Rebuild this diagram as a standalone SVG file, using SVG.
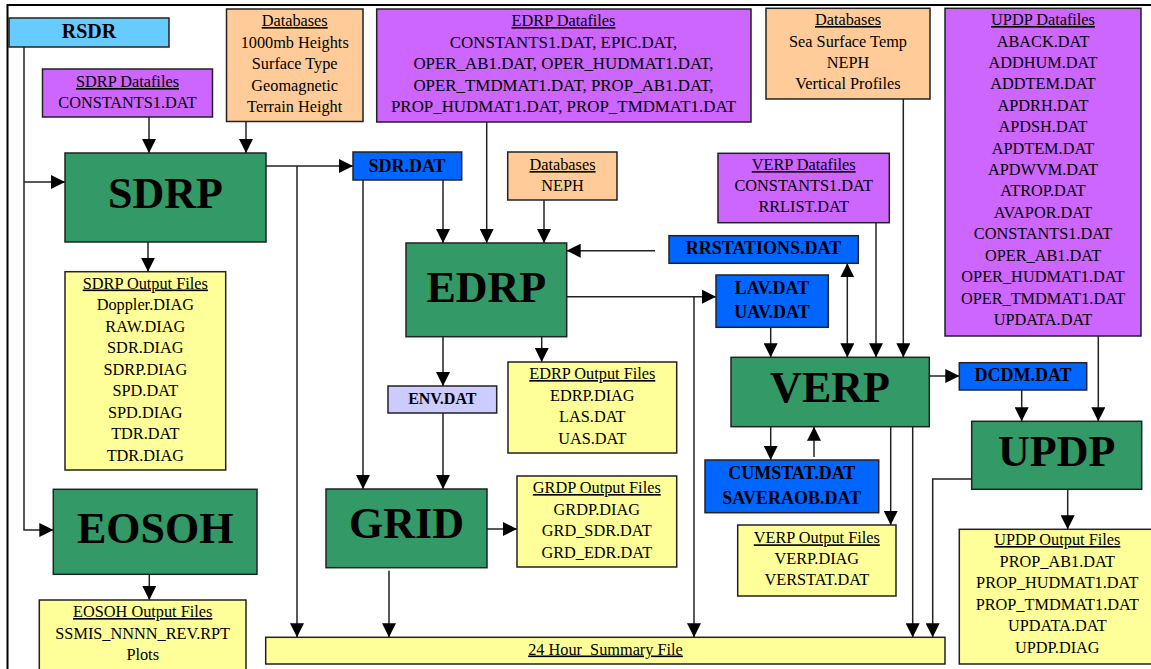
<svg xmlns="http://www.w3.org/2000/svg" width="1151" height="669" viewBox="0 0 1151 669">
<style>
.box{stroke:#222;stroke-width:1.5}
.g{fill:#339966}.p{fill:#CC66FF}.o{fill:#FFCC99}.y{fill:#FFFF99}.b{fill:#0066FF}.lb{fill:#66CCFF}.lv{fill:#CCCCFF}
text{font-family:"Liberation Serif","Times New Roman",serif;fill:#000;text-anchor:middle}
.t{font-size:16.3px}
.h{font-size:16.3px;text-decoration:underline}
.w{font-size:16.9px}
.bl{font-size:18px;font-weight:bold}
.big{font-size:44px;font-weight:bold}
.c{fill:none;stroke:#222;stroke-width:1.5}
</style>
<defs>
<marker id="ah" markerUnits="userSpaceOnUse" markerWidth="14" markerHeight="14" refX="14" refY="7" orient="auto">
<path d="M0,0 L14,7 L0,14 z" fill="#000"/>
</marker>
<marker id="as" markerUnits="userSpaceOnUse" markerWidth="14" markerHeight="14" refX="0" refY="7" orient="auto">
<path d="M14,0 L0,7 L14,14 z" fill="#000"/>
</marker>
</defs>
<rect width="1151" height="669" fill="#fff"/>
<path d="M7.5,669 V5 H1151" fill="none" stroke="#000" stroke-width="2"/>

<g id="connectors" class="c">
<path d="M24,47 V530 H53.3" marker-end="url(#ah)"/>
<path d="M24,182 H65" marker-end="url(#ah)"/>
<path d="M149,117 V153" marker-end="url(#ah)"/>
<path d="M246,121.5 V153" marker-end="url(#ah)"/>
<path d="M266,166 H353" marker-end="url(#ah)"/>
<path d="M297,166 V637.3" marker-end="url(#ah)"/>
<path d="M148,242 V271.7" marker-end="url(#ah)"/>
<path d="M443,180 V243" marker-end="url(#ah)"/>
<path d="M363,180 V489" marker-end="url(#ah)"/>
<path d="M486.7,122 V243" marker-end="url(#ah)"/>
<path d="M544,200 V243" marker-end="url(#ah)"/>
<path d="M655,250.7 H566.7" marker-end="url(#ah)"/>
<path d="M566.7,296.7 H716" marker-end="url(#ah)"/>
<path d="M694,296.7 V637.3" marker-end="url(#ah)"/>
<path d="M443,336.7 V386" marker-end="url(#ah)"/>
<path d="M541.7,336.7 V362" marker-end="url(#ah)"/>
<path d="M443,413 V489" marker-end="url(#ah)"/>
<path d="M487,529 H517" marker-end="url(#ah)"/>
<path d="M389,570.7 V637.3" marker-end="url(#ah)"/>
<path d="M149.3,574.3 V600" marker-end="url(#ah)"/>
<path d="M903.3,99 V357.3" marker-end="url(#ah)"/>
<path d="M876,222.7 V357.3" marker-end="url(#ah)"/>
<path d="M847.3,263.3 V357.3" marker-start="url(#as)" marker-end="url(#ah)"/>
<path d="M770.7,327.3 V357.3" marker-end="url(#ah)"/>
<path d="M929.3,376 H959.3" marker-end="url(#ah)"/>
<path d="M1021.7,390 V421.3" marker-end="url(#ah)"/>
<path d="M1098.3,336 V421.3" marker-end="url(#ah)"/>
<path d="M971.7,479 H932.7 V637.3" marker-end="url(#ah)"/>
<path d="M1067.7,489.3 V529.3" marker-end="url(#ah)"/>
<path d="M770.7,426.7 V460" marker-end="url(#ah)"/>
<path d="M814,457 V426.7" marker-end="url(#ah)"/>
<path d="M890.7,426.7 V525" marker-end="url(#ah)"/>
<path d="M912.7,426.7 V637.3" marker-end="url(#ah)"/>
</g>

<g id="rsdr"><rect class="box lb" x="9" y="18" width="160" height="29"/><text class="bl" style="font-size:20px" x="89" y="38">RSDR</text></g>

<g id="sdrp-datafiles"><rect class="box p" x="42.5" y="69" width="170" height="48"/>
<text class="h" x="127.5" y="87">SDRP Datafiles</text><text class="t" x="127.5" y="107.5">CONSTANTS1.DAT</text></g>

<g id="databases-sdrp"><rect class="box o" x="226.5" y="9" width="136.5" height="112.5"/>
<text class="h" x="294.7" y="26">Databases</text>
<text class="t" x="294.7" y="47.5">1000mb Heights</text>
<text class="t" x="294.7" y="69">Surface Type</text>
<text class="t" x="294.7" y="90.5">Geomagnetic</text>
<text class="t" x="294.7" y="112">Terrain Height</text></g>

<g id="edrp-datafiles"><rect class="box p" x="376.7" y="9" width="374.3" height="113"/>
<text class="h" x="563.5" y="26">EDRP Datafiles</text>
<text class="w" x="563.5" y="47.5">CONSTANTS1.DAT, EPIC.DAT,</text>
<text class="w" x="563.5" y="69">OPER_AB1.DAT, OPER_HUDMAT1.DAT,</text>
<text class="w" x="563.5" y="90.5">OPER_TMDMAT1.DAT, PROP_AB1.DAT,</text>
<text class="w" x="563.5" y="112">PROP_HUDMAT1.DAT, PROP_TMDMAT1.DAT</text></g>

<g id="databases-verp"><rect class="box o" x="766" y="8.3" width="164" height="90.7"/>
<text class="h" x="848" y="25">Databases</text>
<text class="t" x="848" y="46.5">Sea Surface Temp</text>
<text class="t" x="848" y="67.5">NEPH</text>
<text class="t" x="848" y="89">Vertical Profiles</text></g>

<g id="updp-datafiles"><rect class="box p" x="945" y="8.3" width="196" height="327.7"/>
<text class="h" x="1043" y="25">UPDP Datafiles</text>
<text class="t" x="1043" y="46.5">ABACK.DAT</text>
<text class="t" x="1043" y="68">ADDHUM.DAT</text>
<text class="t" x="1043" y="89.3">ADDTEM.DAT</text>
<text class="t" x="1043" y="110.7">APDRH.DAT</text>
<text class="t" x="1043" y="132.2">APDSH.DAT</text>
<text class="t" x="1043" y="153.6">APDTEM.DAT</text>
<text class="t" x="1043" y="175">APDWVM.DAT</text>
<text class="t" x="1043" y="196.4">ATROP.DAT</text>
<text class="t" x="1043" y="217.9">AVAPOR.DAT</text>
<text class="t" x="1043" y="239.3">CONSTANTS1.DAT</text>
<text class="t" x="1043" y="260.7">OPER_AB1.DAT</text>
<text class="t" x="1043" y="282.2">OPER_HUDMAT1.DAT</text>
<text class="t" x="1043" y="303.6">OPER_TMDMAT1.DAT</text>
<text class="t" x="1043" y="325">UPDATA.DAT</text></g>

<g id="sdrp"><rect class="box g" x="65" y="153" width="201" height="89"/><text class="big" x="165.5" y="208">SDRP</text></g>

<g id="sdr-dat"><rect class="box b" x="353" y="152" width="108.7" height="28"/><text class="bl" x="407" y="171.5">SDR.DAT</text></g>

<g id="databases-edrp"><rect class="box o" x="507.7" y="152" width="109.3" height="48"/>
<text class="h" x="562.5" y="170">Databases</text><text class="t" x="562.5" y="190.5">NEPH</text></g>

<g id="verp-datafiles"><rect class="box p" x="718" y="153.3" width="171.3" height="69.4"/>
<text class="h" x="803.7" y="170">VERP Datafiles</text>
<text class="t" x="803.7" y="191">CONSTANTS1.DAT</text>
<text class="t" x="803.7" y="212">RRLIST.DAT</text></g>

<g id="rrstations"><rect class="box b" x="669" y="235.7" width="189.3" height="27.6"/><text class="bl" x="763.5" y="254">RRSTATIONS.DAT</text></g>

<g id="edrp"><rect class="box g" x="406" y="243" width="160.7" height="93.7"/><text class="big" x="486.3" y="302">EDRP</text></g>

<g id="lav-uav"><rect class="box b" x="716" y="275" width="112.3" height="52.3"/>
<text class="bl" x="772" y="294">LAV.DAT</text><text class="bl" x="772" y="318">UAV.DAT</text></g>

<g id="sdrp-output"><rect class="box y" x="65" y="271.7" width="160.7" height="198.3"/>
<text class="h" x="145.3" y="288.5">SDRP Output Files</text>
<text class="t" x="145.3" y="310">Doppler.DIAG</text>
<text class="t" x="145.3" y="331.5">RAW.DIAG</text>
<text class="t" x="145.3" y="353">SDR.DIAG</text>
<text class="t" x="145.3" y="374.7">SDRP.DIAG</text>
<text class="t" x="145.3" y="396">SPD.DAT</text>
<text class="t" x="145.3" y="417.7">SPD.DIAG</text>
<text class="t" x="145.3" y="439.3">TDR.DAT</text>
<text class="t" x="145.3" y="461">TDR.DIAG</text></g>

<g id="edrp-output"><rect class="box y" x="508" y="362" width="168.7" height="91"/>
<text class="h" x="592.3" y="379">EDRP Output Files</text>
<text class="t" x="592.3" y="400.7">EDRP.DIAG</text>
<text class="t" x="592.3" y="422">LAS.DAT</text>
<text class="t" x="592.3" y="444">UAS.DAT</text></g>

<g id="verp"><rect class="box g" x="731" y="357.3" width="198.3" height="69.4"/><text class="big" x="830" y="402">VERP</text></g>

<g id="dcdm"><rect class="box b" x="959.3" y="362.7" width="127.4" height="27.3"/><text class="bl" x="1023" y="381">DCDM.DAT</text></g>

<g id="env-dat"><rect class="box lv" x="388" y="386" width="108.7" height="27"/><text class="bl" style="font-size:16px" x="442.3" y="404">ENV.DAT</text></g>

<g id="updp"><rect class="box g" x="971.7" y="421.3" width="170" height="68"/><text class="big" x="1056.7" y="466">UPDP</text></g>

<g id="cumstat"><rect class="box b" x="705" y="460" width="173.7" height="52.7"/>
<text class="bl" x="791.8" y="479">CUMSTAT.DAT</text><text class="bl" x="791.8" y="504">SAVERAOB.DAT</text></g>

<g id="grdp-output"><rect class="box y" x="517" y="476" width="159.7" height="91"/>
<text class="h" x="596.8" y="493">GRDP Output Files</text>
<text class="t" x="596.8" y="514.5">GRDP.DIAG</text>
<text class="t" x="596.8" y="536">GRD_SDR.DAT</text>
<text class="t" x="596.8" y="557.5">GRD_EDR.DAT</text></g>

<g id="eosoh"><rect class="box g" x="53.3" y="489.3" width="203.7" height="85"/><text class="big" x="155.2" y="543">EOSOH</text></g>

<g id="grid"><rect class="box g" x="326" y="489" width="161" height="78.7"/><text class="big" x="406.5" y="538">GRID</text></g>

<g id="verp-output"><rect class="box y" x="737.7" y="525" width="158.3" height="71"/>
<text class="h" x="816.8" y="543.3">VERP Output Files</text>
<text class="t" x="816.8" y="564">VERP.DIAG</text>
<text class="t" x="816.8" y="585">VERSTAT.DAT</text></g>

<g id="updp-output"><rect class="box y" x="959.3" y="529.3" width="200" height="134.7"/>
<text class="h" x="1057.3" y="545">UPDP Output Files</text>
<text class="t" x="1057.3" y="566.5">PROP_AB1.DAT</text>
<text class="t" x="1057.3" y="588">PROP_HUDMAT1.DAT</text>
<text class="t" x="1057.3" y="609.5">PROP_TMDMAT1.DAT</text>
<text class="t" x="1057.3" y="631">UPDATA.DAT</text>
<text class="t" x="1057.3" y="652.5">UPDP.DIAG</text></g>

<g id="eosoh-output"><rect class="box y" x="39.3" y="600" width="206.7" height="80"/>
<text class="h" x="142.7" y="617">EOSOH Output Files</text>
<text class="t" x="142.7" y="638.5">SSMIS_NNNN_REV.RPT</text>
<text class="t" x="142.7" y="660">Plots</text></g>

<g id="summary"><rect class="box y" x="265.7" y="637.3" width="679.3" height="26.7"/>
<text class="h" x="605.5" y="654.5" style="white-space:pre">24 Hour  Summary File</text></g>
</svg>
